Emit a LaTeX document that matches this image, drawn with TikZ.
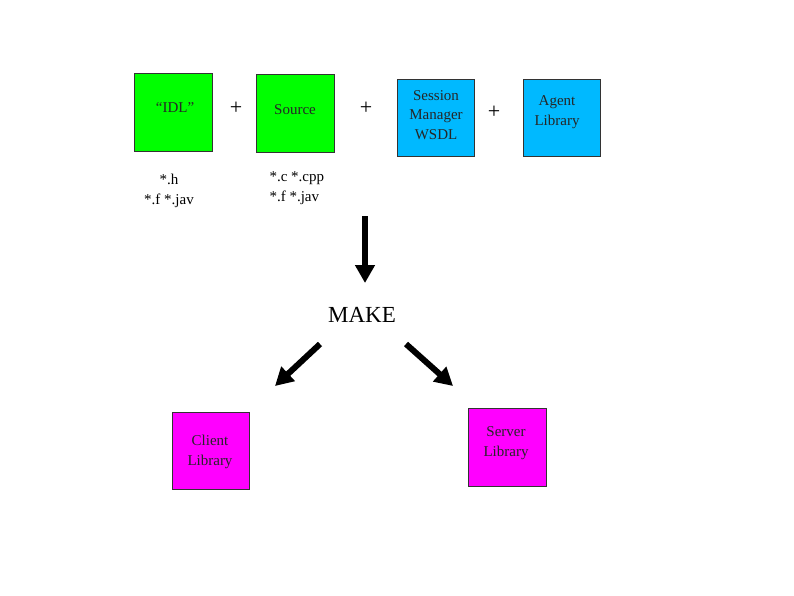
\documentclass[tikz,border=0pt]{standalone}
\usepackage{fontspec}
\setmainfont{Liberation Serif}
\usetikzlibrary{arrows.meta}
\definecolor{boxgreen}{RGB}{0,255,0}
\definecolor{boxblue}{RGB}{0,185,255}
\definecolor{boxmag}{RGB}{255,0,255}
\tikzset{
  box/.style={draw=black!80, line width=0.8pt, minimum width=#1, minimum height=#1, inner sep=0pt, anchor=north west},
  box/.default=77pt,
  btext/.style={text=black!85, align=center, font=\fontsize{15}{19.5}\selectfont},
  lbl/.style={font=\fontsize{15}{20}\selectfont},
  plus/.style={font=\fontsize{22}{22}\selectfont},
  bigarrow/.style={line width=6pt, -{Triangle[width=19pt,length=18pt]}}
}
\begin{document}
\begin{tikzpicture}[x=1pt,y=-1pt]
\useasboundingbox (0,0) rectangle (794,595);
\node[box=78pt, fill=boxgreen] (idl) at (134,73) {};
\node[btext] (idlt) at (175,108) {“IDL”};
\node[box=78pt, fill=boxgreen] (src) at (256,74) {};
\node[btext] (srct) at (295,110) {Source};
\node[box=77pt, fill=boxblue] (sess) at (397,79) {};
\node[btext] (sesst) at (436,115) {Session\\Manager\\WSDL};
\node[box=77pt, fill=boxblue] (agent) at (523,79) {};
\node[btext] (agentt) at (557,112) {Agent\\Library};
\node[box=77pt, fill=boxmag] (client) at (172,412) {};
\node[btext] (clientt) at (210,452) {Client\\Library};
\node[box=78pt, fill=boxmag] (server) at (468,408) {};
\node[btext] (servert) at (506,443) {Server\\Library};
\node[plus] (p1) at (236,108) {+};
\node[plus] (p2) at (366,108) {+};
\node[plus] (p3) at (494,112) {+};
\node[lbl, align=center] (hext) at (169,191) {*.h\\*.f *.jav};
\node[lbl, align=left, anchor=west] (cext) at (266,188) {*.c *.cpp\\*.f *.jav};
\node[font=\fontsize{23}{23}\selectfont] (make) at (362,315) {MAKE};
\coordinate (d1) at (365,216);
\coordinate (d2) at (365,283);
\coordinate (l1) at (320,344);
\coordinate (l2) at (275,386);
\coordinate (r1) at (406,344);
\coordinate (r2) at (453,386);
\draw[bigarrow] (d1) -- (d2);
\draw[bigarrow] (l1) -- (l2);
\draw[bigarrow] (r1) -- (r2);
\end{tikzpicture}
\end{document}
